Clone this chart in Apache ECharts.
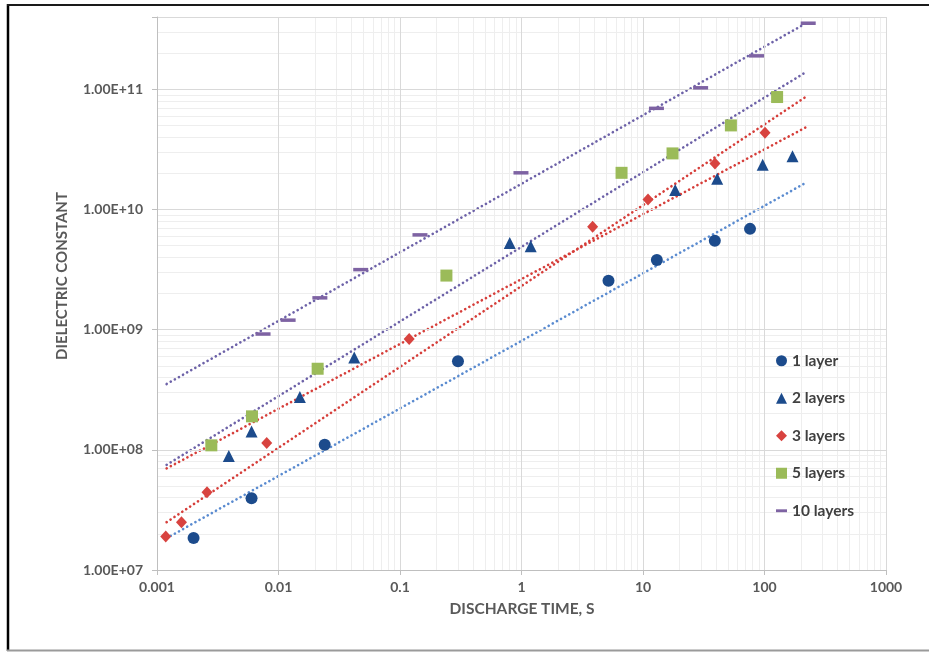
<!DOCTYPE html>
<html><head><meta charset="utf-8">
<script src="https://cdn.jsdelivr.net/npm/echarts@6/dist/echarts.min.js"></script>
<style>html,body{margin:0;padding:0;background:#fff}#c{width:929px;height:652px}</style>
</head><body><div id="c"></div>
<script>
// ---- data ----
const layer1X = [0.002, 0.006, 0.024, 0.30, 5.2, 13, 39, 76];
const layer1Y = [1.85e7, 3.95e7, 1.1e8, 5.45e8, 2.55e9, 3.8e9, 5.5e9, 6.9e9];
const layer2X = [0.0039, 0.006, 0.015, 0.042, 0.80, 1.19, 18.4, 40.8, 96.6, 170];
const layer2Y = [8.9e7, 1.42e8, 2.75e8, 5.87e8, 5.27e9, 4.94e9, 1.45e10, 1.8e10, 2.36e10, 2.78e10];
const layer3X = [0.00118, 0.00159, 0.00258, 0.008, 0.119, 3.85, 11.0, 39.1, 101];
const layer3Y = [1.9e7, 2.5e7, 4.44e7, 1.14e8, 8.36e8, 7.18e9, 1.21e10, 2.42e10, 4.36e10];
const layer5X = [0.0028, 0.00605, 0.021, 0.241, 6.66, 17.5, 52.9, 127];
const layer5Y = [1.09e8, 1.9e8, 4.73e8, 2.82e9, 2.02e10, 2.93e10, 5.01e10, 8.63e10];
const layer10X = [0.00746, 0.012, 0.0219, 0.0475, 0.146, 0.99, 12.9, 29.8, 86, 229];
const layer10Y = [9.2e8, 1.2e9, 1.84e9, 3.16e9, 6.15e9, 2.02e10, 6.95e10, 1.03e11, 1.9e11, 3.55e11];

// trendline end points (power-law fits, straight on log-log)
const trendX = [0.0012, 224];
const trend1Y = [1.84e7, 1.69e10];
const trend2Y = [7.0e7, 4.89e10];
const trend3Y = [2.5e7, 8.8e10];
const trend5Y = [7.5e7, 1.41e11];
const trend10Y = [3.53e8, 3.59e11];

const seriesNames = ['1 layer', '2 layers', '3 layers', '5 layers', '10 layers'];
const xTickLabels = ['0.001', '0.01', '0.1', '1', '10', '100', '1000'];
const yTickLabels = ['1.00E+07', '1.00E+08', '1.00E+09', '1.00E+10', '1.00E+11'];
const xDecades = [0.001, 0.01, 0.1, 1, 10, 100];
const yDecades = [1e7, 1e8, 1e9, 1e10, 1e11];
const minorMultiples = [2, 3, 4, 5, 6, 7, 8, 9];
const yMax = 4e11;

// ---- helpers ----
const pairs = (xs, ys) => xs.map((x, i) => [x, ys[i]]);
function decadeLabel(v, firstExp, labels) {
  const l = Math.log10(v);
  const e = Math.round(l);
  if (Math.abs(l - e) > 1e-6) return '';
  return labels[e - firstExp] || '';
}
const xMinor = [], yMinor = [];
xDecades.forEach(d => minorMultiples.forEach(m => xMinor.push({ xAxis: d * m })));
yDecades.forEach(d => minorMultiples.forEach(m => { if (d * m < yMax) yMinor.push({ yAxis: d * m }); }));

const FONT = 'Lato, "Open Sans", sans-serif';
const cNavy = '#1c4b8c', cRed = '#d8433f', cGreen = '#9bbb59', cPurple = '#7e63a3';
const tPurple = '#6d62a8', tRed = '#d63e3a', tBlue = '#5a8bd0';

function trend(ys, color) {
  return {
    type: 'line', data: pairs(trendX, ys), showSymbol: false, symbol: 'none', silent: true, z: 2,
    lineStyle: { color: color, width: 2.6, type: [0.1, 4.6], cap: 'round' }
  };
}
function scatter(name, xs, ys, symbol, size, color) {
  return { type: 'scatter', name: name, data: pairs(xs, ys), symbol: symbol, symbolSize: size, z: 4,
    itemStyle: { color: color, opacity: 1 } };
}

const chart = echarts.init(document.getElementById('c'), null, { renderer: 'canvas' });
chart.setOption({
  animation: false,
  backgroundColor: '#fff',
  grid: { left: 157, right: 43, top: 17, bottom: 82 },
  xAxis: {
    type: 'log', logBase: 10, min: 0.001, max: 1000, z: 3,
    axisLine: { show: true, lineStyle: { color: '#bfbfbf', width: 1 } },
    axisTick: { show: true, length: 5, lineStyle: { color: '#bfbfbf' } },
    splitLine: { show: true, lineStyle: { color: '#d9d9d9', width: 1 } },
    axisLabel: { margin: 10, color: '#595959', fontFamily: FONT, fontWeight: 'bold', fontSize: 14,
      formatter: v => decadeLabel(v, -3, xTickLabels) }
  },
  yAxis: {
    type: 'log', logBase: 10, min: 1e7, max: yMax, z: 3,
    axisLine: { show: true, lineStyle: { color: '#bfbfbf', width: 1 } },
    axisTick: { show: true, length: 5, lineStyle: { color: '#bfbfbf' } },
    splitLine: { show: true, lineStyle: { color: '#d9d9d9', width: 1 } },
    axisLabel: { margin: 14, color: '#595959', fontFamily: FONT, fontWeight: 'bold', fontSize: 14,
      formatter: v => decadeLabel(v, 7, yTickLabels) }
  },
  legend: {
    orient: 'vertical', left: 776, top: 352, padding: 0, itemWidth: 11, itemHeight: 11, itemGap: 20,
    textStyle: { color: '#404040', fontFamily: FONT, fontWeight: 'bold', fontSize: 15.5, lineHeight: 17.5 },
    data: [
      { name: seriesNames[0], icon: 'circle' },
      { name: seriesNames[1], icon: 'triangle' },
      { name: seriesNames[2], icon: 'diamond' },
      { name: seriesNames[3], icon: 'rect' },
      { name: seriesNames[4], icon: 'path://M0,0H10V2.6H0Z' }
    ]
  },
  graphic: [
    { type: 'text', x: 62, y: 276, rotation: Math.PI / 2,
      style: { text: 'DIELECTRIC CONSTANT', font: 'bold 15px ' + FONT, fill: '#595959', align: 'center', verticalAlign: 'middle' } },
    { type: 'text', x: 522, y: 609,
      style: { text: 'DISCHARGE TIME, S', font: 'bold 15.5px ' + FONT, fill: '#595959', align: 'center', verticalAlign: 'middle' } },
    { type: 'line', shape: { x1: 8, y1: 4, x2: 8, y2: 651 }, style: { stroke: '#000', lineWidth: 2.5 } },
    { type: 'line', shape: { x1: 7, y1: 5, x2: 929, y2: 5 }, style: { stroke: '#1a1a1a', lineWidth: 2 } },
    { type: 'line', shape: { x1: 7, y1: 650.5, x2: 929, y2: 650.5 }, style: { stroke: '#9a9a9a', lineWidth: 2 } }
  ],
  series: [
    { type: 'scatter', name: 'minor-grid', data: [], silent: true, z: 0,
      markLine: { silent: true, z: 0, zlevel: 0, symbol: 'none', animation: false, label: { show: false },
        lineStyle: { color: '#eeeeee', width: 1, type: 'solid' },
        data: xMinor.concat(yMinor) } },
    trend(trend1Y, tBlue),
    trend(trend2Y, tRed),
    trend(trend3Y, tRed),
    trend(trend5Y, tPurple),
    trend(trend10Y, tPurple),
    scatter(seriesNames[0], layer1X, layer1Y, 'circle', 12, cNavy),
    scatter(seriesNames[1], layer2X, layer2Y, 'triangle', 12, cNavy),
    scatter(seriesNames[2], layer3X, layer3Y, 'diamond', [11, 12], cRed),
    scatter(seriesNames[3], layer5X, layer5Y, 'rect', 12, cGreen),
    scatter(seriesNames[4], layer10X, layer10Y, 'rect', [15, 3.5], cPurple)
  ]
});
</script></body></html>
